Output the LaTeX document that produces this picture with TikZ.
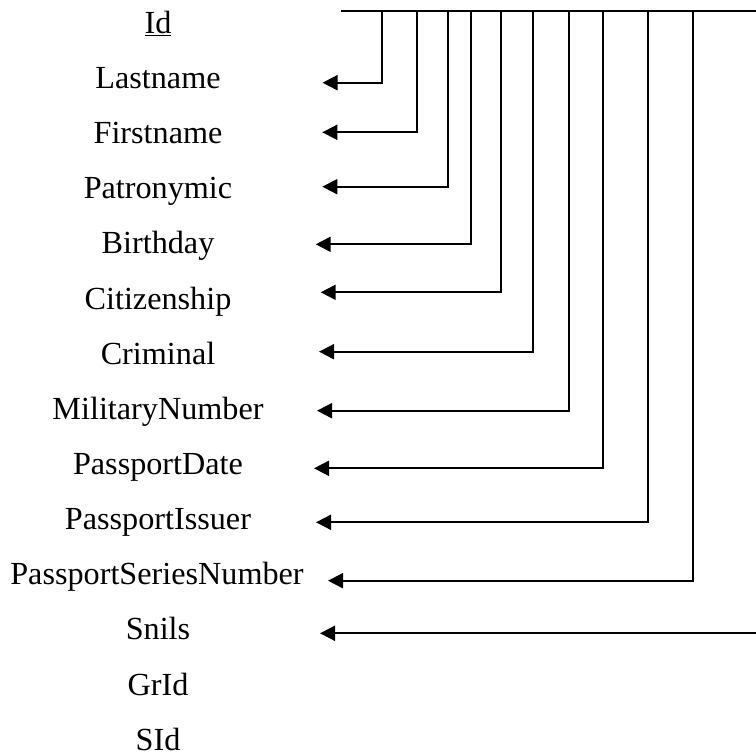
\documentclass[tikz,border=0pt]{standalone}
\usepackage{fontspec}
\setmainfont{Liberation Serif}
\usetikzlibrary{arrows.meta}
\begin{document}
\begin{tikzpicture}[x=1pt,y=-1pt,
  field/.style={anchor=base,inner sep=0pt,font=\fontsize{32.2}{38}\selectfont},
  link/.style={line width=1.8pt,-{Triangle[length=15pt,width=15pt]}},
  bus/.style={line width=1.8pt}]
\useasboundingbox (0,0) rectangle (756,756);

% attribute list
\node[field] (id)  at (158,33.3) {\underline{Id}};
\node[field] (f1)  at (158,88.0) {Lastname};
\node[field] (f2)  at (158,143.6) {Firstname};
\node[field] (f3)  at (158,198.7) {Patronymic};
\node[field] (f4)  at (158,253.9) {Birthday};
\node[field] (f5)  at (158,309.0) {Citizenship};
\node[field] (f6)  at (158,364.2) {Criminal};
\node[field] (f7)  at (158,419.3) {MilitaryNumber};
\node[field] (f8)  at (158,474.5) {PassportDate};
\node[field] (f9)  at (158,529.6) {PassportIssuer};
\node[field] (f10) at (157,584.8) {PassportSeriesNumber};
\node[field] (f11) at (158,639.9) {Snils};
\node[field] (f12) at (158,695.1) {GrId};
\node[field] (f13) at (158,750.2) {SId};

% dependency bus from the key
\coordinate (busL) at (341,11);
\coordinate (busR) at (756,11);
\draw[bus] (busL) -- (busR);

% branch points on the bus
\coordinate (b1)  at (381.7,11);
\coordinate (b2)  at (416.7,11);
\coordinate (b3)  at (447.7,11);
\coordinate (b4)  at (471.3,11);
\coordinate (b5)  at (500.7,11);
\coordinate (b6)  at (533.3,11);
\coordinate (b7)  at (568.7,11);
\coordinate (b8)  at (603.3,11);
\coordinate (b9)  at (648.3,11);
\coordinate (b10) at (693.3,11);

% arrow tips next to the attributes
\coordinate (e1)  at (322.5,82.7);
\coordinate (e2)  at (322.3,132.3);
\coordinate (e3)  at (322.3,186.7);
\coordinate (e4)  at (315.7,244.3);
\coordinate (e5)  at (320.7,292.3);
\coordinate (e6)  at (319,351.7);
\coordinate (e7)  at (317,410.7);
\coordinate (e8)  at (314,468.3);
\coordinate (e9)  at (316,522.3);
\coordinate (e10) at (328,580.7);
\coordinate (e11) at (320,633.3);
\coordinate (s11) at (756,633.3);

\foreach \i in {1,...,10}
  \draw[link] (b\i) |- (e\i);
\draw[link] (s11) -- (e11);
\end{tikzpicture}
\end{document}
